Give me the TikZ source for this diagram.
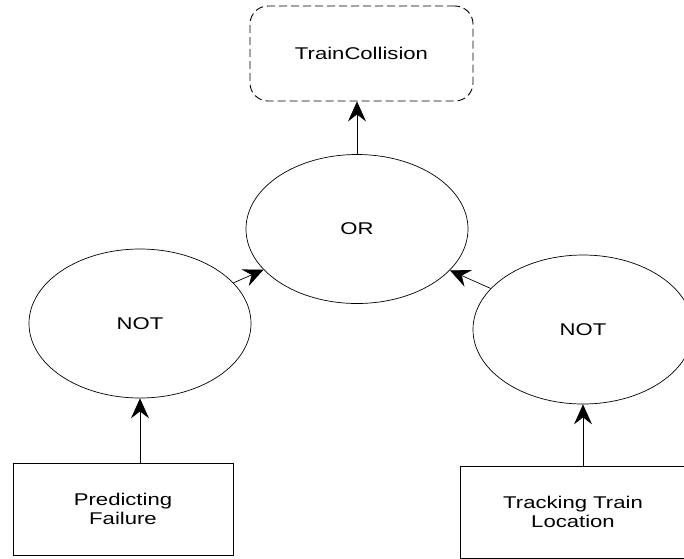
\documentclass[tikz,border=0pt]{standalone}
\usepackage{fontspec}
\setmainfont{Liberation Sans}[FakeStretch=1.3]
\usetikzlibrary{shapes.geometric,arrows.meta}
\begin{document}
\begin{tikzpicture}[x=1pt,y=-1pt,
  every node/.style={font=\fontsize{17}{19}\selectfont, align=center, inner sep=0pt},
  gate/.style={draw, ellipse, line width=0.7pt, minimum width=222pt, minimum height=149pt},
  basebox/.style={draw, rectangle, line width=0.8pt, minimum width=220pt, minimum height=92pt},
  goalbox/.style={draw, dash pattern=on 8pt off 4pt, rounded corners=18pt, line width=0.9pt, minimum width=223pt, minimum height=95pt},
  conn/.style={line width=0.7pt, -{Stealth[length=20pt, width=18pt, inset=7pt]}}]
\clip (0,0) rectangle (684,558);
\fill[white] (0,0) rectangle (684,558);
\node[goalbox] (tc) at (361.5,53.5) {TrainCollision};
\node[gate] (or) at (357,229) {OR};
\node[gate] (notL) at (140,323.5) {NOT};
\node[gate, minimum width=220pt] (notR) at (583,329.5) {NOT};
\node[basebox] (pf) at (123,509) {Predicting\\Failure};
\node[basebox, minimum width=226pt] (tt) at (573,512) {Tracking Train\\Location};
\draw[conn] (or.north) -- (or.north |- tc.south);
\draw[conn] (notL) -- (or);
\draw[conn] (notR) -- (or);
\draw[conn] (notL.south |- pf.north) -- (notL.south);
\draw[conn] (notR.south |- tt.north) -- (notR.south);
\end{tikzpicture}
\end{document}
